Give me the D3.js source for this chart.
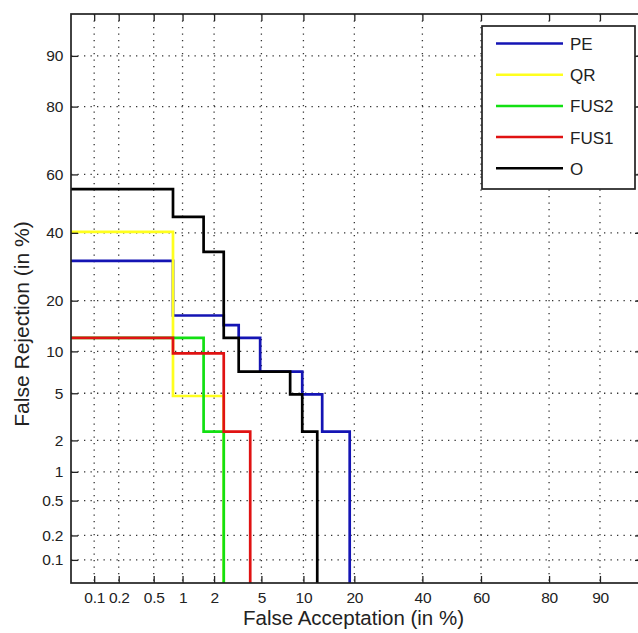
<!DOCTYPE html>
<html>
<head>
<meta charset="utf-8">
<script src="https://cdn.jsdelivr.net/npm/d3@7"></script>
<style>
    body { margin: 0; background: #fff; }
    text { font-family: Arial, "Liberation Sans", sans-serif; fill: #222; }
</style>
</head>
<body>
<script>
//DET plot, false acceptation vs false rejection on a normal deviate scale
(function(){

    //tick values (in %) and their labels, same on both axes
    var tickValues = [0.1, 0.2, 0.5, 1, 2, 5, 10, 20, 40, 60, 80, 90];
    var tickLabels = ["0.1", "0.2", "0.5", "1", "2", "5", "10", "20", "40", "60", "80", "90"];

    //series names, in plot order
    var seriesNames = ["PE", "QR", "FUS2", "FUS1", "O"];

    //step points of each curve: false acceptation (%) and false rejection (%)
    var faPE   = [0.001, 0.8, 2.44, 3.28, 4.89, 9.82, 13.15, 18.9];
    var frPE   = [31, 16.6, 14.6, 12.2, 7.25, 4.9, 2.4, 0.001];
    var faQR   = [0.001, 0.8, 2.44];
    var frQR   = [40.3, 4.76, 0.001];
    var faFUS2 = [0.001, 1.6, 2.44];
    var frFUS2 = [12.2, 2.4, 0.001];
    var faFUS1 = [0.001, 0.8, 2.44, 4.08];
    var frFUS1 = [12.2, 9.7, 2.4, 0.001];
    var faO    = [0.001, 0.8, 1.6, 2.44, 3.28, 8.13, 9.82, 12.26];
    var frO    = [55, 45.4, 33.8, 12.2, 7.25, 4.9, 2.4, 0.001];

    var colors = ["#1414b4", "#ffff1e", "#12e012", "#e01212", "#000000"];

window.onload = setChart();

//inverse of the normal cdf (Acklam's approximation)
function probit(p){
    var a = [-3.969683028665376e+01, 2.209460984245205e+02, -2.759285104469687e+02, 1.383577518672690e+02, -3.066479806614716e+01, 2.506628277459239e+00],
        b = [-5.447609879822406e+01, 1.615858368580409e+02, -1.556989798598866e+02, 6.680131188771972e+01, -1.328068155288572e+01],
        c = [-7.784894002430293e-03, -3.223964580411365e-01, -2.400758277161838e+00, -2.549732539343734e+00, 4.374664141464968e+00, 2.938163982698783e+00],
        d = [7.784695709041462e-03, 3.224671290700398e-01, 2.445134137142996e+00, 3.754408661907416e+00];
    var plow = 0.02425, q, r;
    if (p < plow){
        q = Math.sqrt(-2 * Math.log(p));
        return (((((c[0]*q+c[1])*q+c[2])*q+c[3])*q+c[4])*q+c[5]) / ((((d[0]*q+d[1])*q+d[2])*q+d[3])*q+1);
    }
    if (p <= 1 - plow){
        q = p - 0.5; r = q * q;
        return (((((a[0]*r+a[1])*r+a[2])*r+a[3])*r+a[4])*r+a[5])*q / (((((b[0]*r+b[1])*r+b[2])*r+b[3])*r+b[4])*r+1);
    }
    q = Math.sqrt(-2 * Math.log(1 - p));
    return -(((((c[0]*q+c[1])*q+c[2])*q+c[3])*q+c[4])*q+c[5]) / ((((d[0]*q+d[1])*q+d[2])*q+d[3])*q+1);
}

function setChart(){

    var width = 638,
        height = 633;

    //plot frame (right edge falls just outside the picture)
    var left = 71, right = 642, top = 14, bottom = 583;

    var svg = d3.select("body")
        .append("svg")
        .attr("width", width)
        .attr("height", height);

    //linear scales on the normal deviate, axis limits 0.05% .. 95%
    var x = d3.scaleLinear()
        .domain([probit(0.0005), probit(0.95)])
        .range([left, right]);
    var y = d3.scaleLinear()
        .domain([probit(0.0005), probit(0.95)])
        .range([bottom, top]);

    var tickZ = tickValues.map(function(v){ return probit(v / 100); });

    svg.append("clipPath")
        .attr("id", "plotClip")
        .append("rect")
        .attr("x", left).attr("y", top)
        .attr("width", right - left).attr("height", bottom - top);

    //dotted grid
    var grid = svg.append("g").attr("class", "grid");
    grid.selectAll(".gx")
        .data(tickZ)
        .enter()
        .append("line")
        .attr("x1", function(d){ return x(d); })
        .attr("x2", function(d){ return x(d); })
        .attr("y1", top).attr("y2", bottom);
    grid.selectAll(".gy")
        .data(tickZ)
        .enter()
        .append("line")
        .attr("y1", function(d){ return y(d); })
        .attr("y2", function(d){ return y(d); })
        .attr("x1", left).attr("x2", right);
    grid.selectAll("line")
        .attr("stroke", "#333")
        .attr("stroke-width", 1.3)
        .attr("stroke-dasharray", "1.3,5.2");

    //curves
    var line = d3.line()
        .x(function(d){ return x(probit(d[0] / 100)); })
        .y(function(d){ return y(probit(d[1] / 100)); })
        .curve(d3.curveStepAfter);

    var faList = [faPE, faQR, faFUS2, faFUS1, faO],
        frList = [frPE, frQR, frFUS2, frFUS1, frO];

    var curves = svg.append("g").attr("clip-path", "url(#plotClip)");
    seriesNames.forEach(function(name, i){
        var pts = faList[i].map(function(fa, j){ return [fa, frList[i][j]]; });
        curves.append("path")
            .datum(pts)
            .attr("class", "curve " + name)
            .attr("fill", "none")
            .attr("stroke", colors[i])
            .attr("stroke-width", 2.7)
            .attr("d", line);
    });

    //axes with inward ticks
    var fmt = function(d, i){ return tickLabels[i]; };
    var xAxis = svg.append("g")
        .attr("transform", "translate(0," + bottom + ")")
        .call(d3.axisBottom(x).tickValues(tickZ).tickFormat(fmt).tickSizeInner(-7).tickSizeOuter(0).tickPadding(9));
    var yAxis = svg.append("g")
        .attr("transform", "translate(" + left + ",0)")
        .call(d3.axisLeft(y).tickValues(tickZ).tickFormat(fmt).tickSizeInner(-7).tickSizeOuter(0).tickPadding(8));
    var xTop = svg.append("g")
        .attr("transform", "translate(0," + top + ")")
        .call(d3.axisTop(x).tickValues(tickZ).tickFormat("").tickSizeInner(-7).tickSizeOuter(0));
    var yRight = svg.append("g")
        .attr("transform", "translate(" + right + ",0)")
        .call(d3.axisRight(y).tickValues(tickZ).tickFormat("").tickSizeInner(-7).tickSizeOuter(0));

    [xAxis, yAxis, xTop, yRight].forEach(function(g){
        g.select(".domain").remove();
        g.selectAll("line").attr("stroke", "#222").attr("stroke-width", 1.3);
        g.selectAll("text")
            .attr("font-size", 15.5)
            .attr("letter-spacing", -0.3)
            .attr("font-family", "Arial, 'Liberation Sans', sans-serif")
            .attr("fill", "#2a2a2a");
    });

    //frame
    svg.append("rect")
        .attr("x", left).attr("y", top)
        .attr("width", right - left).attr("height", bottom - top)
        .attr("fill", "none")
        .attr("stroke", "#222")
        .attr("stroke-width", 1.7);

    //axis titles
    svg.append("text")
        .attr("x", (235 + 472) / 2)
        .attr("y", 625)
        .attr("text-anchor", "middle")
        .attr("font-size", 20.5)
        .text("False Acceptation (in %)");
    svg.append("text")
        .attr("transform", "translate(29,324) rotate(-90)")
        .attr("text-anchor", "middle")
        .attr("font-size", 21)
        .text("False Rejection (in %)");

    //legend
    var legend = svg.append("g").attr("class", "legend");
    legend.append("rect")
        .attr("x", 482).attr("y", 26)
        .attr("width", 153).attr("height", 163)
        .attr("fill", "#fff")
        .attr("stroke", "#222")
        .attr("stroke-width", 1.7);
    var rows = legend.selectAll(".row")
        .data(seriesNames)
        .enter()
        .append("g")
        .attr("transform", function(d, i){ return "translate(0," + (43.5 + i * 31.2) + ")"; });
    rows.append("line")
        .attr("x1", 496).attr("x2", 563)
        .attr("stroke", function(d, i){ return colors[i]; })
        .attr("stroke-width", 2.5);
    rows.append("text")
        .attr("x", 570)
        .attr("y", 6.5)
        .attr("font-size", 17)
        .text(function(d){ return d; });
}

})();
</script>
</body>
</html>
